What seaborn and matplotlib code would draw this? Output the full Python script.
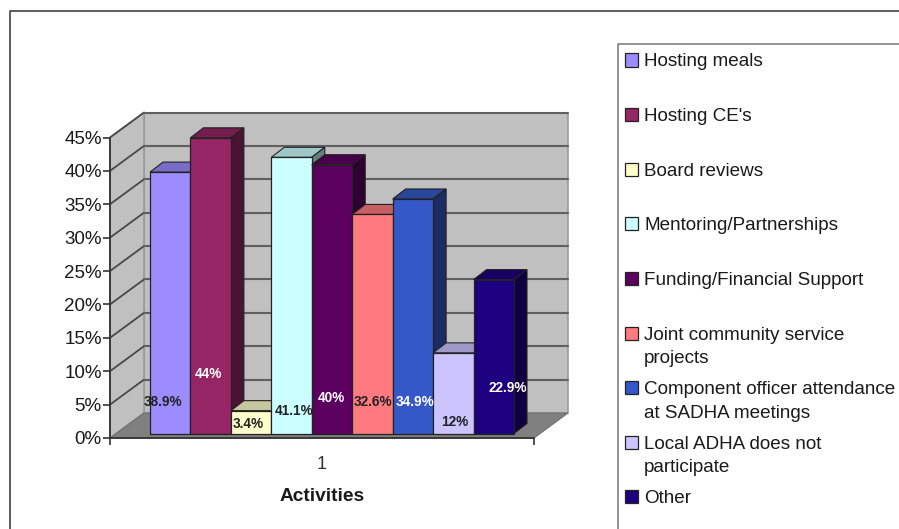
import matplotlib
matplotlib.use("Agg")
import matplotlib.pyplot as plt
import pandas as pd
import seaborn as sns
from matplotlib.colors import to_rgb
from matplotlib.patches import Polygon, Rectangle

activities = ["Hosting meals", "Hosting CE's", "Board reviews", "Mentoring/Partnerships",
              "Funding/Financial Support", "Joint community service\nprojects",
              "Component officer attendance\nat SADHA meetings",
              "Local ADHA does not\nparticipate", "Other"]
percentages = [38.9, 44, 3.4, 41.1, 40, 32.6, 34.9, 12, 22.9]
bar_colors = ["#9C8CFF", "#962565", "#FFFFCC", "#CCFFFF", "#5C0060",
              "#FF7B80", "#3558C8", "#CCC4FF", "#1C0080"]
label_colors = ["#222222", "white", "#222222", "#222222", "white",
                "#222222", "white", "#222222", "white"]
y_ticks = list(range(0, 50, 5))

W, H = 899, 529
sns.set_theme(style="white")
plt.rcParams["font.family"] = ["Liberation Sans", "DejaVu Sans"]
TEXT = "#1a1a1a"


def box(left, right, top, bottom):
    return [left / W, 1 - bottom / H, (right - left) / W, (bottom - top) / H]


def shade(color, factor):
    return tuple(c * factor for c in to_rgb(color))


fig = plt.figure(figsize=(W / 100, H / 100), dpi=100, facecolor="white")

# Outer chart border and legend frame, both running off the canvas edge
fig.add_artist(plt.Line2D([10 / W, 10 / W, 1], [0, 1 - 11 / H, 1 - 11 / H], color="#505050", lw=1.3))
fig.add_artist(plt.Line2D([618 / W, 618 / W, 1], [0, 1 - 44 / H, 1 - 44 / H], color="#808080", lw=1.2))

# Front plane of the 3D box: carries the axis lines and tick labels
ax = fig.add_axes(box(110, 534, 137.5, 438))
ax.patch.set_alpha(0)
ax.set_xlim(0, 1)
ax.set_ylim(0, 45)
DX = 34 / 424
DY = 25 / (300.5 / 45)

wall = "#C0C0C0"
ax.add_patch(Polygon([(DX, DY), (1 + DX, DY), (1 + DX, 45 + DY), (DX, 45 + DY)],
                     fc=wall, ec="#969696", lw=1.1, clip_on=False, zorder=0))
ax.add_patch(Polygon([(0, 0), (DX, DY), (DX, 45 + DY), (0, 45)],
                     fc=wall, ec="#969696", lw=1.1, clip_on=False, zorder=0))
ax.add_patch(Polygon([(0, 0), (DX, DY), (1 + DX, DY), (1, 0)],
                     fc="#808080", ec="#707070", lw=0.8, clip_on=False, zorder=0))
for v in y_ticks[1:]:
    ax.plot([0, DX], [v, v + DY], color="#484848", lw=1.3, clip_on=False, zorder=1)
    ax.plot([DX, 1 + DX], [v + DY, v + DY], color="#606060", lw=1.5, clip_on=False, zorder=1)

ax.set_yticks(y_ticks, [f"{v}%" for v in y_ticks])
ax.set_xticks([0, 1], ["", ""])
ax.set_xticks([0.5], ["1"], minor=True)
ax.tick_params(axis="both", which="major", length=5, width=1.2, color="#333333",
               left=True, bottom=True, labelsize=13.5, labelcolor=TEXT, pad=1)
ax.tick_params(axis="x", which="minor", length=0, labelsize=13, labelcolor="#333333", pad=13)
for name in ("top", "right"):
    ax.spines[name].set_visible(False)
for name in ("left", "bottom"):
    ax.spines[name].set_color("#333333")
    ax.spines[name].set_linewidth(1.3)
ax.set_xlabel("Activities", fontsize=13.8, fontweight="bold", color=TEXT, labelpad=11)

# Bars sit slightly behind the front plane
bar_ax = fig.add_axes(box(150, 514, 433.5 - 6.72 * 45, 433.5))
bar_ax.patch.set_alpha(0)
df = pd.DataFrame({"activity": activities, "pct": percentages})
sns.barplot(data=df, x="activity", y="pct", hue="activity", palette=bar_colors,
            saturation=1, width=1, dodge=False, legend=False, edgecolor="#222222",
            linewidth=0.9, ax=bar_ax)
bar_ax.set_xlim(-0.5, 8.5)
bar_ax.set_ylim(0, 45)
bar_ax.set_axis_off()

bx = 13 / (364 / 9)
by = 10 / 6.72
for i, (patch, color) in enumerate(zip(bar_ax.patches, bar_colors)):
    x0, w, h = patch.get_x(), patch.get_width(), patch.get_height()
    x1 = x0 + w
    patch.set_zorder(2 * i + 3)
    patch.set_clip_on(False)
    bar_ax.add_patch(Polygon([(x0, h), (x1, h), (x1 + bx, h + by), (x0 + bx, h + by)],
                             fc=shade(color, 0.78), ec="#222222", lw=0.8,
                             clip_on=False, zorder=2 * i + 2))
    bar_ax.add_patch(Polygon([(x1, 0), (x1 + bx, by), (x1 + bx, h + by), (x1, h)],
                             fc=shade(color, 0.5), ec="#222222", lw=0.8,
                             clip_on=False, zorder=2 * i + 2))

# Value labels are hand-placed, as some spill past their own bar
label_offsets = [(-7, 31.5), (-2, 59.5), (-3, 9.5), (3, 22.5), (-1, 35.5),
                 (1, 31.5), (2, 31.5), (1, 11.5), (14, 45.5)]
for i, (value, tint, offset) in enumerate(zip(percentages, label_colors, label_offsets)):
    bar_ax.annotate(f"{value:g}%", xy=(i, 0), xytext=offset, textcoords="offset pixels",
                    ha="center", va="center", fontsize=9.8, fontweight="bold",
                    color=tint, zorder=40, annotation_clip=False)

# Legend entries are evenly spaced by their first line
for i, (name, color) in enumerate(zip(activities, bar_colors)):
    y = 60 + i * 54.6
    fig.add_artist(Rectangle((624.5 / W, 1 - (y + 6.5) / H), 13 / W, 13 / H, fc=color,
                             ec="#222222", lw=0.9, transform=fig.transFigure))
    fig.text(644 / W, 1 - (y - 6.5) / H, name, fontsize=13.6, color=TEXT, va="top", ha="left",
             linespacing=1.5)

fig.savefig("out.png", dpi=100)
